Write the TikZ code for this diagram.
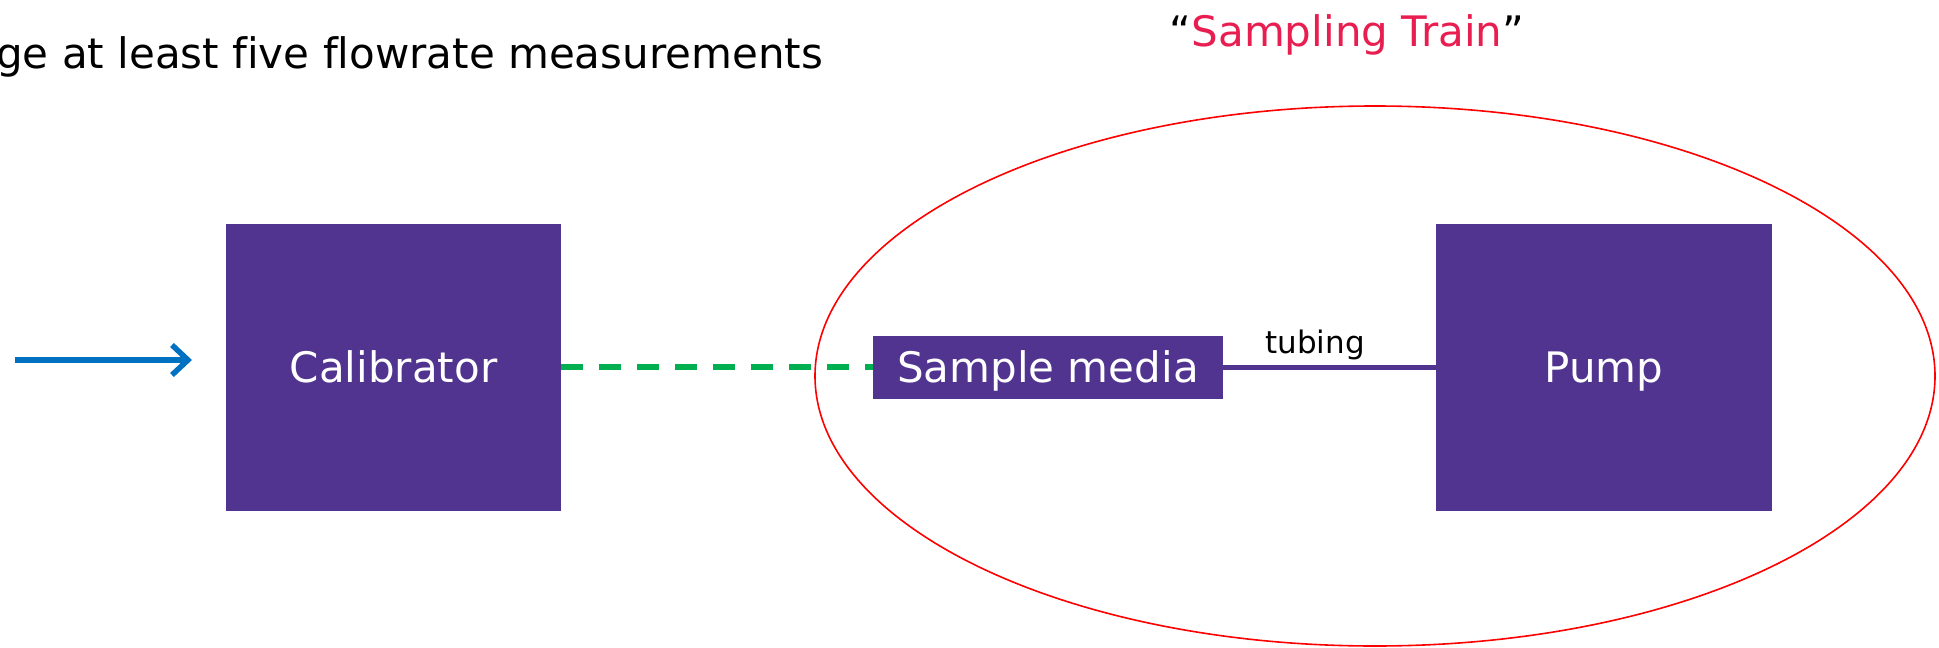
\documentclass[tikz,border=0pt]{standalone}
\usepackage{fontspec}
\setmainfont[Ligatures={NoCommon}]{DejaVu Sans}
\usetikzlibrary{arrows.meta,shapes.geometric}
\definecolor{boxpurple}{HTML}{50348F}
\definecolor{linkgreen}{HTML}{00B050}
\definecolor{flowblue}{HTML}{0070C0}
\definecolor{titlepink}{HTML}{E91E50}
\tikzset{
  unitbox/.style={fill=boxpurple, draw=none, inner sep=0pt, text=white,
    text depth=0pt, font=\fontsize{42}{50}\selectfont},
  label42/.style={font=\fontsize{42}{50}\selectfont, inner sep=0pt},
}
\begin{document}
\begin{tikzpicture}[x=1pt, y=-1pt]
  \useasboundingbox (0,0) rectangle (1939,648);

  % headline text
  \node[label42, anchor=base west] (headline) at (-4,68) {ge at least five flowrate measurements};
  \node[font=\fontsize{42}{50}\selectfont, inner sep=0pt, anchor=base] (title) at (1347,46)
    {“\textcolor{titlepink}{Sampling Train}”};

  % sampling train outline
  \node[draw=red, line width=1.6pt, ellipse, minimum width=1120pt, minimum height=540pt, inner sep=0pt]
    (train) at (1375,376) {};

  % units
  \node[unitbox, minimum width=335pt, minimum height=287pt] (cal) at (393.5,367) {Calibrator};
  \node[unitbox, minimum width=350pt, minimum height=63pt] (media) at (1048,367) {Sample media};
  \node[unitbox, minimum width=336pt, minimum height=287pt] (pump) at (1604,367) {Pump};

  % connections
  \draw[linkgreen, line width=5.5pt, dash pattern=on 22pt off 16pt] (cal.east) -- (media.west);
  \draw[boxpurple, line width=5pt] (media.east) -- (pump.west);
  \node[font=\fontsize{31}{36}\selectfont, inner sep=0pt, anchor=base] (tubing) at (1315,353) {tubing};

  % incoming flow arrow
  \coordinate (flowstart) at (15,360);
  \coordinate (flowend) at (192,360);
  \draw[flowblue, line width=5.5pt, -{Straight Barb[length=16pt, width=30pt, line width=5.5pt]}]
    (flowstart) -- (flowend);
\end{tikzpicture}
\end{document}
